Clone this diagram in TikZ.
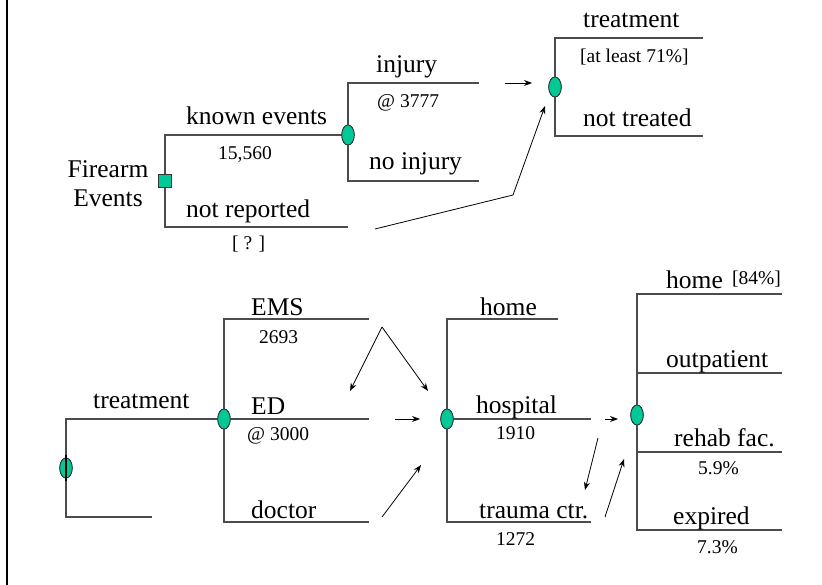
\documentclass[tikz,border=0pt]{standalone}
\usepackage{fontspec}
\setmainfont{Liberation Serif}
\usetikzlibrary{arrows.meta, shapes.geometric, positioning}

\definecolor{nodegreen}{RGB}{0,200,150}

\tikzset{
    chance/.style={ellipse, draw=black!80, fill=nodegreen, line width=0.8pt,
        minimum width=12.5pt, minimum height=20pt, inner sep=0pt},
    decision/.style={rectangle, draw=black!80, fill=nodegreen, line width=0.8pt,
        minimum size=13pt, inner sep=0pt},
    branch/.style={draw=black!70, line width=1.2pt},
    flow/.style={-{Stealth[length=8pt, width=6pt]}, line width=0.8pt},
    big/.style={font=\fontsize{25.5}{30}\selectfont, anchor=base west, inner sep=0pt},
    small/.style={font=\fontsize{19.5}{23}\selectfont, anchor=base west, inner sep=0pt},
}

\begin{document}
\begin{tikzpicture}[x=1pt, y=-1pt]
    \useasboundingbox (0,0) rectangle (822,585);
    \draw[line width=2pt] (7,0) -- (7,585);

    % Firearm events tree
    \node[decision] (fe) at (165,181) {};
    \node[chance] (kn) at (348,135) {};
    \node[chance] (tr) at (555,87) {};
    \coordinate (notrep) at (348,227);
    \coordinate (inj) at (479,83);
    \coordinate (noinj) at (479,181);
    \coordinate (treat) at (703,38);
    \coordinate (nottreat) at (703,136);

    \draw[branch] (kn.center) -| (fe.center) |- (notrep);
    \draw[branch] (inj) -| (kn.center) |- (noinj);
    \draw[branch] (treat) -| (tr.center) |- (nottreat);
    \node[decision] at (fe) {};
    \node[chance] at (kn) {};
    \node[chance] at (tr) {};

    \node[font=\fontsize{25.5}{30}\selectfont, anchor=base, inner sep=0pt] (fe1) at (108,178) {Firearm};
    \node[font=\fontsize{25.5}{30}\selectfont, anchor=base, inner sep=0pt] (fe2) at (108,207) {Events};
    \node[big] (lknown) at (186,125) {known events};
    \node[small] (nknown) at (218,160) {15,560};
    \node[big] (lnotrep) at (186,218) {not reported};
    \node[small] (nnotrep) at (232,250) {[ ? ]};
    \node[big] (linj) at (376,73) {injury};
    \node[small] (ninj) at (377,108) {@ 3777};
    \node[big] (lnoinj) at (369,170) {no injury};
    \node[big] (ltreat) at (583,28) {treatment};
    \node[small] (ntreat) at (580,63) {[at least 71\%]};
    \node[big] (lnottreat) at (583,127) {not treated};

    % arrows into the treatment node
    \coordinate (a1) at (505,83);
    \coordinate (a2) at (532,83);
    \coordinate (b1) at (375,229);
    \coordinate (b2) at (513,195);
    \coordinate (b3) at (545,106);
    \draw[flow] (a1) -- (a2);
    \draw[flow] (b1) -- (b2) -- (b3);

    % Treatment tree
    \node[chance] (n0) at (66,468) {};
    \node[chance] (n1) at (224,419) {};
    \node[chance] (n2) at (447,419) {};
    \node[chance] (n3) at (637,415) {};
    \coordinate (lowend) at (152,517);
    \coordinate (ems) at (369,319);
    \coordinate (ed) at (369,419);
    \coordinate (doc) at (369,522);
    \coordinate (home) at (558,319);
    \coordinate (hosp) at (591,419);
    \coordinate (trauma) at (591,522);
    \coordinate (home2) at (782,294);
    \coordinate (outp) at (782,373);
    \coordinate (rehab) at (782,452);
    \coordinate (expired) at (782,530);

    \draw[branch] (n1.center) -| (n0.center) |- (lowend);
    \draw[branch] (ems) -| (n1.center) |- (doc);
    \draw[branch] (n1.center) -- (ed);
    \draw[branch] (home) -| (n2.center) |- (trauma);
    \draw[branch] (n2.center) -- (hosp);
    \draw[branch] (home2) -| (n3.center) |- (expired);
    \draw[branch] (n3 |- outp) -- (outp);
    \draw[branch] (n3 |- rehab) -- (rehab);
    \node[chance] at (n0) {};
    \draw[line width=1.2pt] (66,455) -- (66,481);
    \node[chance] at (n1) {};
    \node[chance] at (n2) {};
    \node[chance] at (n3) {};

    \node[big] (ltreat2) at (93,408) {treatment};
    \node[big] (lems) at (251,316) {EMS};
    \node[small] (nems) at (259,343) {2693};
    \node[big] (led) at (251,414) {ED};
    \node[small] (ned) at (247,440) {@ 3000};
    \node[big] (ldoc) at (251,518) {doctor};
    \node[big] (lhome) at (480,316) {home};
    \node[big] (lhosp) at (476,413) {hospital};
    \node[small] (nhosp) at (496,439) {1910};
    \node[big] (ltrauma) at (479,518) {trauma ctr.};
    \node[small] (ntrauma) at (496,545) {1272};
    \node[big] (lhome2) at (666,289) {home};
    \node[small] (nhome2) at (732,285) {[84\%]};
    \node[big] (loutp) at (666,367) {outpatient};
    \node[big] (lrehab) at (674,446) {rehab fac.};
    \node[small] (nrehab) at (698,474) {5.9\%};
    \node[big] (lexp) at (673,524) {expired};
    \node[small] (nexp) at (697,553) {7.3\%};

    % arrows between the stages
    \coordinate (c0) at (382,327);
    \coordinate (c1) at (350,391);
    \coordinate (c2) at (428,391);
    \coordinate (d1) at (395,419);
    \coordinate (d2) at (420,419);
    \coordinate (e1) at (382,517);
    \coordinate (e2) at (421,465);
    \coordinate (f1) at (605,419);
    \coordinate (f2) at (618,419);
    \coordinate (g1) at (598,438);
    \coordinate (g2) at (585,490);
    \coordinate (h1) at (605,517);
    \coordinate (h2) at (624,459);
    \draw[flow] (c0) -- (c1);
    \draw[flow] (c0) -- (c2);
    \draw[flow] (d1) -- (d2);
    \draw[flow] (e1) -- (e2);
    \draw[flow] (f1) -- (f2);
    \draw[flow] (g1) -- (g2);
    \draw[flow] (h1) -- (h2);
\end{tikzpicture}
\end{document}
